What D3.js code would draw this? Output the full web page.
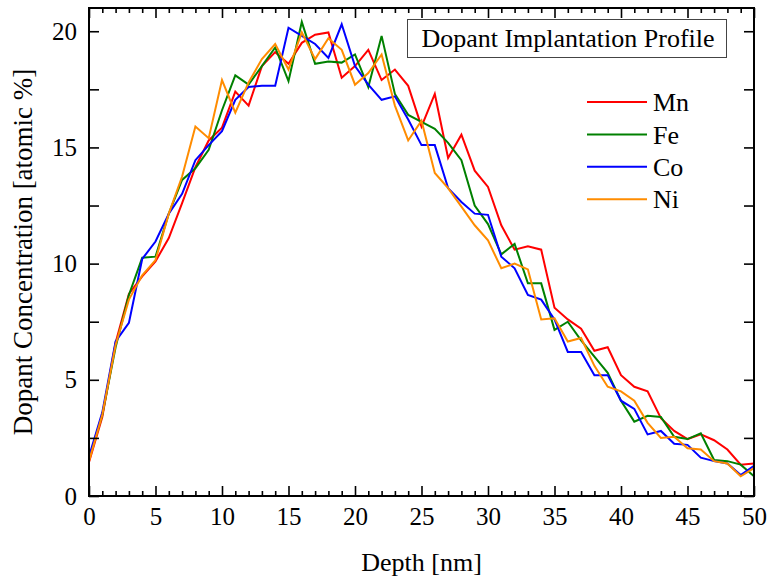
<!DOCTYPE html>
<html>
<head>
<meta charset="utf-8">
<script src="https://cdn.jsdelivr.net/npm/d3@7"></script>
<style>
  body { margin: 0; background: #fff; }
  svg text { font-family: "Liberation Serif", "Times New Roman", serif; }
</style>
</head>
<body>
<div id="chart"></div>
<script>
// Data
const depth = d3.range(0, 51);
const mn = [1.45, 3.4, 6.6, 8.7, 9.45, 10.1, 11.1, 12.6, 14.15, 15.3, 15.85, 17.4, 16.8, 18.5, 19.1, 18.6, 19.5, 19.85, 19.95, 18.0, 18.5, 19.2, 17.9, 18.35, 17.65, 15.9, 17.3, 14.55, 15.55, 14.0, 13.3, 11.65, 10.6, 10.75, 10.6, 8.1, 7.6, 7.2, 6.25, 6.4, 5.2, 4.7, 4.5, 3.35, 2.8, 2.45, 2.65, 2.4, 2.0, 1.35, 1.4];
const fe = [1.6, 3.5, 6.4, 8.65, 10.25, 10.3, 12.15, 13.6, 14.1, 14.9, 16.6, 18.1, 17.7, 18.5, 19.3, 17.85, 20.4, 18.6, 18.7, 18.65, 19.0, 17.6, 19.8, 17.3, 16.4, 16.1, 15.8, 15.2, 14.45, 12.5, 11.7, 10.4, 10.85, 9.15, 9.15, 7.15, 7.5, 6.7, 6.0, 5.3, 4.1, 3.2, 3.45, 3.4, 2.55, 2.45, 2.7, 1.55, 1.5, 1.35, 0.85];
const co = [1.7, 3.6, 6.65, 7.45, 10.2, 10.95, 12.15, 13.0, 14.45, 15.1, 15.7, 17.05, 17.6, 17.65, 17.65, 20.15, 19.8, 19.45, 18.85, 20.3, 18.5, 17.7, 17.05, 17.2, 16.2, 15.1, 15.1, 13.25, 12.65, 12.15, 12.1, 10.3, 9.8, 8.65, 8.45, 7.6, 6.2, 6.2, 5.2, 5.2, 4.1, 3.75, 2.65, 2.8, 2.25, 2.2, 1.65, 1.5, 1.4, 0.9, 1.3];
const ni = [1.5, 3.5, 6.5, 8.45, 9.5, 10.15, 12.15, 13.75, 15.9, 15.4, 17.9, 16.5, 17.8, 18.8, 19.45, 18.35, 19.95, 18.8, 19.7, 19.2, 17.7, 18.2, 19.0, 16.8, 15.3, 16.15, 13.9, 13.25, 12.45, 11.65, 11.0, 9.8, 10.0, 9.75, 7.6, 7.65, 6.65, 6.8, 5.6, 4.7, 4.5, 4.1, 3.15, 2.5, 2.55, 2.05, 2.0, 1.5, 1.4, 0.85, 1.2];

const seriesNames = ["Mn", "Fe", "Co", "Ni"];
const seriesColors = ["#ff0000", "#008000", "#0000ff", "#ff8c00"];
const seriesValues = [mn, fe, co, ni];

const xTicks = [0, 5, 10, 15, 20, 25, 30, 35, 40, 45, 50];
const yTicks = [0, 5, 10, 15, 20];
const titleText = "Dopant Implantation Profile";

// Layout
const size = { width: 769, height: 577 };
const margin = { left: 89, right: 15, top: 8, bottom: 81 };
const innerRight = size.width - margin.right;
const innerBottom = size.height - margin.bottom;
const serif = "'Liberation Serif', 'Times New Roman', serif";

const svg = d3.select("#chart")
  .append("svg")
  .attr("width", size.width)
  .attr("height", size.height)
  .attr("font-family", serif);

const xScale = d3.scaleLinear([0, 50], [margin.left, innerRight]);
const yScale = d3.scaleLinear([0, 21], [innerBottom, margin.top]);

// Lines
const line = d3.line()
  .x((d, i) => xScale(depth[i]))
  .y((d) => yScale(d));

const plot = svg.append("g");
seriesValues.forEach((vals, i) => {
  plot.append("path")
    .datum(vals)
    .attr("fill", "none")
    .attr("stroke", seriesColors[i])
    .attr("stroke-width", 2)
    .attr("d", line);
});

// Axes (ticks point inward)
const tickFont = "25px";
const minorX = d3.range(0, 51).filter((d) => d % 5 !== 0);
const yAll = d3.range(0, 21, 2.5);

function styleAxis(g) {
  g.attr("font-family", serif);
  g.select(".domain").remove();
  g.selectAll(".tick line").attr("stroke", "#000").attr("stroke-width", 1.6);
  g.selectAll(".tick text")
    .attr("fill", "#000")
    .attr("font-family", serif)
    .style("font-size", tickFont);
}

svg.append("g")
  .attr("transform", `translate(0,${innerBottom})`)
  .call(d3.axisBottom(xScale).tickValues(xTicks).tickSize(-10).tickPadding(11).tickFormat(d3.format("d")))
  .call(styleAxis);
svg.append("g")
  .attr("transform", `translate(0,${innerBottom})`)
  .call(d3.axisBottom(xScale).tickValues(minorX).tickSize(-5).tickFormat(""))
  .call(styleAxis);
svg.append("g")
  .attr("transform", `translate(0,${margin.top})`)
  .call(d3.axisTop(xScale).tickValues(xTicks).tickSize(-10).tickFormat(""))
  .call(styleAxis);
svg.append("g")
  .attr("transform", `translate(0,${margin.top})`)
  .call(d3.axisTop(xScale).tickValues(minorX).tickSize(-5).tickFormat(""))
  .call(styleAxis);
svg.append("g")
  .attr("transform", `translate(${margin.left},0)`)
  .call(d3.axisLeft(yScale).tickValues(yAll).tickSize(-10).tickPadding(12)
    .tickFormat((d) => (yTicks.includes(d) ? d : "")))
  .call(styleAxis);
svg.append("g")
  .attr("transform", `translate(${innerRight},0)`)
  .call(d3.axisRight(yScale).tickValues(yAll).tickSize(-10).tickFormat(""))
  .call(styleAxis);

// Frame
svg.append("rect")
  .attr("x", margin.left)
  .attr("y", margin.top)
  .attr("width", innerRight - margin.left)
  .attr("height", innerBottom - margin.top)
  .attr("fill", "none")
  .attr("stroke", "#000")
  .attr("stroke-width", 2);

// Axis titles
svg.append("text")
  .attr("x", (margin.left + innerRight) / 2)
  .attr("y", 571)
  .attr("text-anchor", "middle")
  .style("font-size", "26px")
  .text("Depth [nm]");

svg.append("text")
  .attr("transform", `translate(32,${(margin.top + innerBottom) / 2}) rotate(-90)`)
  .attr("text-anchor", "middle")
  .style("font-size", "27px")
  .text("Dopant Concentration [atomic %]");

// Title box
svg.append("rect")
  .attr("x", 407.5)
  .attr("y", 19.5)
  .attr("width", 319)
  .attr("height", 38)
  .attr("fill", "#fff")
  .attr("stroke", "#444")
  .attr("stroke-width", 1);
svg.append("text")
  .attr("x", 568)
  .attr("y", 47)
  .attr("text-anchor", "middle")
  .style("font-size", "26px")
  .text(titleText);

// Legend
const legend = svg.append("g").attr("transform", "translate(587,102)");
seriesNames.forEach((name, i) => {
  const g = legend.append("g").attr("transform", `translate(0,${i * 32.4})`);
  g.append("line")
    .attr("x1", 0).attr("x2", 60)
    .attr("stroke", seriesColors[i])
    .attr("stroke-width", 2);
  g.append("text")
    .attr("x", 66)
    .attr("dy", "0.35em")
    .style("font-size", "26px")
    .text(name);
});
</script>
</body>
</html>
